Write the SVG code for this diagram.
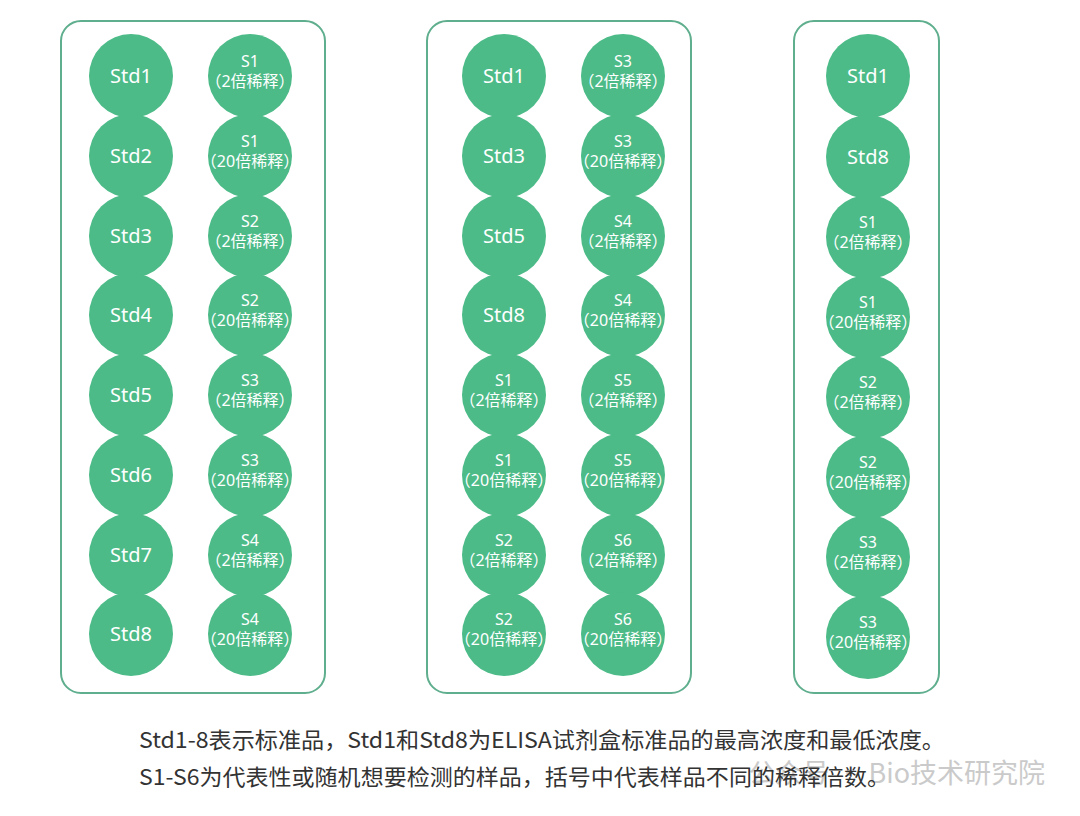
<svg xmlns="http://www.w3.org/2000/svg" width="1080" height="816" viewBox="0 0 1080 816">
<style>
.panel{fill:#fff;stroke:#5fae8e;stroke-width:2}
.c{fill:#4cbb88}
.t{font-family:"Noto Sans","Noto Sans CJK SC",sans-serif;fill:#fff;text-anchor:middle}
.std{font-size:20px}
.s{font-size:16px}
.p{font-size:16px}
.note{font-family:"Noto Sans CJK SC","Noto Sans",sans-serif;font-size:22px;fill:#333}
.wm{font-family:"Noto Sans CJK SC","Noto Sans",sans-serif;font-size:27px;fill:#a8a8a8;text-anchor:end}
</style>
<rect width="1080" height="816" fill="#fff"/>
<g id="panel1">
<rect class="panel" x="61" y="21" width="264" height="672" rx="20"/>
<g id="p1-std1"><circle class="c" cx="131" cy="76" r="42"/><text class="t std" x="131" y="83">Std1</text></g>
<g id="p1-std2"><circle class="c" cx="131" cy="156" r="42"/><text class="t std" x="131" y="163">Std2</text></g>
<g id="p1-std3"><circle class="c" cx="131" cy="236" r="42"/><text class="t std" x="131" y="243">Std3</text></g>
<g id="p1-std4"><circle class="c" cx="131" cy="315" r="42"/><text class="t std" x="131" y="322">Std4</text></g>
<g id="p1-std5"><circle class="c" cx="131" cy="395" r="42"/><text class="t std" x="131" y="402">Std5</text></g>
<g id="p1-std6"><circle class="c" cx="131" cy="475" r="42"/><text class="t std" x="131" y="482">Std6</text></g>
<g id="p1-std7"><circle class="c" cx="131" cy="555" r="42"/><text class="t std" x="131" y="562">Std7</text></g>
<g id="p1-std8"><circle class="c" cx="131" cy="634" r="42"/><text class="t std" x="131" y="641">Std8</text></g>
<g id="p1-s1a"><circle class="c" cx="250" cy="76" r="42"/><text class="t s" x="250" y="67">S1</text><text class="t p" x="250" y="87">（2倍稀释）</text></g>
<g id="p1-s1b"><circle class="c" cx="250" cy="156" r="42"/><text class="t s" x="250" y="147">S1</text><text class="t p" x="250" y="167">（20倍稀释）</text></g>
<g id="p1-s2a"><circle class="c" cx="250" cy="236" r="42"/><text class="t s" x="250" y="227">S2</text><text class="t p" x="250" y="247">（2倍稀释）</text></g>
<g id="p1-s2b"><circle class="c" cx="250" cy="315" r="42"/><text class="t s" x="250" y="306">S2</text><text class="t p" x="250" y="326">（20倍稀释）</text></g>
<g id="p1-s3a"><circle class="c" cx="250" cy="395" r="42"/><text class="t s" x="250" y="386">S3</text><text class="t p" x="250" y="406">（2倍稀释）</text></g>
<g id="p1-s3b"><circle class="c" cx="250" cy="475" r="42"/><text class="t s" x="250" y="466">S3</text><text class="t p" x="250" y="486">（20倍稀释）</text></g>
<g id="p1-s4a"><circle class="c" cx="250" cy="555" r="42"/><text class="t s" x="250" y="546">S4</text><text class="t p" x="250" y="566">（2倍稀释）</text></g>
<g id="p1-s4b"><circle class="c" cx="250" cy="634" r="42"/><text class="t s" x="250" y="625">S4</text><text class="t p" x="250" y="645">（20倍稀释）</text></g>
</g>
<g id="panel2">
<rect class="panel" x="427" y="21" width="264" height="672" rx="20"/>
<g id="p2-std1"><circle class="c" cx="504" cy="76" r="42"/><text class="t std" x="504" y="83">Std1</text></g>
<g id="p2-std3"><circle class="c" cx="504" cy="156" r="42"/><text class="t std" x="504" y="163">Std3</text></g>
<g id="p2-std5"><circle class="c" cx="504" cy="236" r="42"/><text class="t std" x="504" y="243">Std5</text></g>
<g id="p2-std8"><circle class="c" cx="504" cy="315" r="42"/><text class="t std" x="504" y="322">Std8</text></g>
<g id="p2-s1a"><circle class="c" cx="504" cy="395" r="42"/><text class="t s" x="504" y="386">S1</text><text class="t p" x="504" y="406">（2倍稀释）</text></g>
<g id="p2-s1b"><circle class="c" cx="504" cy="475" r="42"/><text class="t s" x="504" y="466">S1</text><text class="t p" x="504" y="486">（20倍稀释）</text></g>
<g id="p2-s2a"><circle class="c" cx="504" cy="555" r="42"/><text class="t s" x="504" y="546">S2</text><text class="t p" x="504" y="566">（2倍稀释）</text></g>
<g id="p2-s2b"><circle class="c" cx="504" cy="634" r="42"/><text class="t s" x="504" y="625">S2</text><text class="t p" x="504" y="645">（20倍稀释）</text></g>
<g id="p2-s3a"><circle class="c" cx="623" cy="76" r="42"/><text class="t s" x="623" y="67">S3</text><text class="t p" x="623" y="87">（2倍稀释）</text></g>
<g id="p2-s3b"><circle class="c" cx="623" cy="156" r="42"/><text class="t s" x="623" y="147">S3</text><text class="t p" x="623" y="167">（20倍稀释）</text></g>
<g id="p2-s4a"><circle class="c" cx="623" cy="236" r="42"/><text class="t s" x="623" y="227">S4</text><text class="t p" x="623" y="247">（2倍稀释）</text></g>
<g id="p2-s4b"><circle class="c" cx="623" cy="315" r="42"/><text class="t s" x="623" y="306">S4</text><text class="t p" x="623" y="326">（20倍稀释）</text></g>
<g id="p2-s5a"><circle class="c" cx="623" cy="395" r="42"/><text class="t s" x="623" y="386">S5</text><text class="t p" x="623" y="406">（2倍稀释）</text></g>
<g id="p2-s5b"><circle class="c" cx="623" cy="475" r="42"/><text class="t s" x="623" y="466">S5</text><text class="t p" x="623" y="486">（20倍稀释）</text></g>
<g id="p2-s6a"><circle class="c" cx="623" cy="555" r="42"/><text class="t s" x="623" y="546">S6</text><text class="t p" x="623" y="566">（2倍稀释）</text></g>
<g id="p2-s6b"><circle class="c" cx="623" cy="634" r="42"/><text class="t s" x="623" y="625">S6</text><text class="t p" x="623" y="645">（20倍稀释）</text></g>
</g>
<g id="panel3">
<rect class="panel" x="794" y="21" width="145" height="672" rx="20"/>
<g id="p3-std1"><circle class="c" cx="868" cy="76" r="42"/><text class="t std" x="868" y="83">Std1</text></g>
<g id="p3-std8"><circle class="c" cx="868" cy="157" r="42"/><text class="t std" x="868" y="164">Std8</text></g>
<g id="p3-s1a"><circle class="c" cx="868" cy="237" r="42"/><text class="t s" x="868" y="228">S1</text><text class="t p" x="868" y="248">（2倍稀释）</text></g>
<g id="p3-s1b"><circle class="c" cx="868" cy="317" r="42"/><text class="t s" x="868" y="308">S1</text><text class="t p" x="868" y="328">（20倍稀释）</text></g>
<g id="p3-s2a"><circle class="c" cx="868" cy="397" r="42"/><text class="t s" x="868" y="388">S2</text><text class="t p" x="868" y="408">（2倍稀释）</text></g>
<g id="p3-s2b"><circle class="c" cx="868" cy="477" r="42"/><text class="t s" x="868" y="468">S2</text><text class="t p" x="868" y="488">（20倍稀释）</text></g>
<g id="p3-s3a"><circle class="c" cx="868" cy="557" r="42"/><text class="t s" x="868" y="548">S3</text><text class="t p" x="868" y="568">（2倍稀释）</text></g>
<g id="p3-s3b"><circle class="c" cx="868" cy="637" r="42"/><text class="t s" x="868" y="628">S3</text><text class="t p" x="868" y="648">（20倍稀释）</text></g>
</g>
<g id="connectors"></g>
<g id="notes">
<text class="wm" x="1045" y="783" opacity="0.6">公众号 · Bio技术研究院</text>
<text class="note" x="139" y="748" textLength="806" lengthAdjust="spacingAndGlyphs">Std1-8表示标准品，Std1和Std8为ELISA试剂盒标准品的最高浓度和最低浓度。</text>
<text class="note" x="139" y="785" textLength="751" lengthAdjust="spacingAndGlyphs">S1-S6为代表性或随机想要检测的样品，括号中代表样品不同的稀释倍数。</text>
</g>
</svg>
